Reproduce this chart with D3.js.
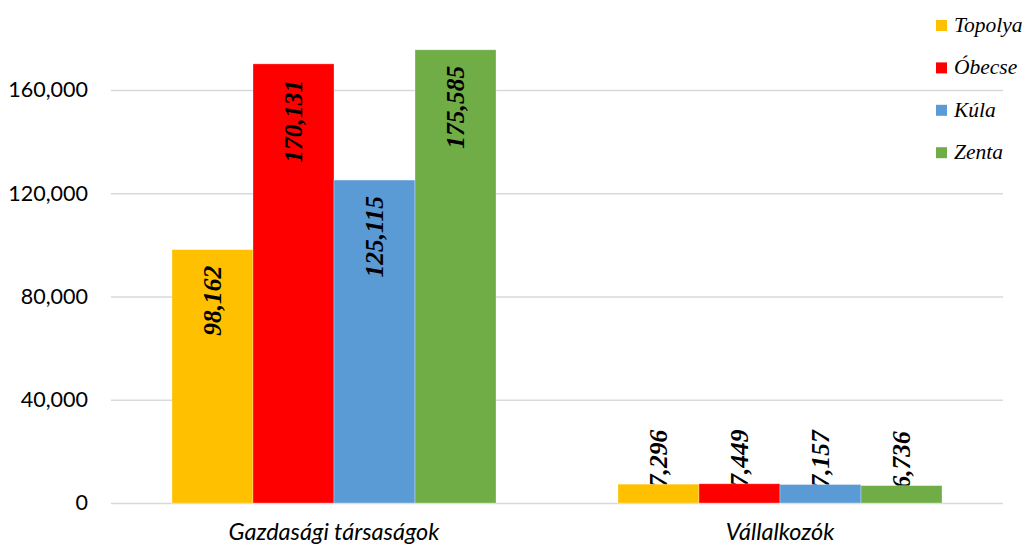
<!DOCTYPE html>
<html>
<head>
<meta charset="utf-8">
<script src="https://cdn.jsdelivr.net/npm/d3@7"></script>
<style>
  body { margin: 0; background: #fff; }
  svg { display: block; }
</style>
</head>
<body>
<svg id="chart" width="1025" height="547"></svg>
<script>
// chart data
const categories = ["Gazdasági társaságok", "Vállalkozók"];
const seriesNames = ["Topolya", "Óbecse", "Kúla", "Zenta"];
const seriesColors = ["#FFC000", "#FF0000", "#5B9BD5", "#70AD47"];
const topolya = [98162, 7296];
const obecse = [170131, 7449];
const kula = [125115, 7157];
const zenta = [175585, 6736];
const yTicks = [0, 40000, 80000, 120000, 160000];

const values = [topolya, obecse, kula, zenta];

let svg = d3.select("#chart"),
    WIDTH = 1025,
    HEIGHT = 547,
    MARGINS = { top: 38.4, right: 22, bottom: 44, left: 111 };

let x0 = d3.scaleBand()
    .domain(categories)
    .range([MARGINS.left, WIDTH - MARGINS.right])
    .paddingInner(0.2735)
    .paddingOuter(0.2735 / 2);

let x1 = d3.scaleBand()
    .domain(seriesNames)
    .range([0, x0.bandwidth()]);

let y = d3.scaleLinear()
    .domain([0, 180000])
    .range([HEIGHT - MARGINS.bottom, MARGINS.top]);

let color = d3.scaleOrdinal().domain(seriesNames).range(seriesColors);
let fmt = d3.format(",");

// gridlines + y labels
let yAxis = d3.axisLeft(y)
    .tickValues(yTicks)
    .tickFormat(fmt)
    .tickSize(-(WIDTH - MARGINS.left - MARGINS.right))
    .tickPadding(23);

let gy = svg.append("g")
    .attr("transform", "translate(" + MARGINS.left + ",0)")
    .call(yAxis);
gy.select(".domain").remove();
gy.selectAll(".tick line").attr("stroke", "#d9d9d9").attr("stroke-width", 1.5);
gy.selectAll(".tick text")
    .attr("fill", "#000")
    .style("font-family", "Lato, 'Open Sans', sans-serif")
    .style("font-size", "21.5px");

// x labels
let xAxis = d3.axisBottom(x0).tickSize(0).tickPadding(20);
let gx = svg.append("g")
    .attr("transform", "translate(0," + (HEIGHT - MARGINS.bottom) + ")")
    .call(xAxis);
gx.select(".domain").remove();
gx.selectAll(".tick text")
    .attr("fill", "#000")
    .style("font-family", "Lato, 'Open Sans', sans-serif")
    .style("font-style", "italic")
    .style("font-size", "23.5px");

// flatten into bar records
let bars = [];
categories.forEach(function(c, i) {
    seriesNames.forEach(function(s, j) {
        bars.push({ cat: c, name: s, value: values[j][i] });
    });
});

const LABEL_LEN = 90;
function fits(d) { return y(0) - y(d.value) > LABEL_LEN; }

function labelAttrs(sel) {
    sel.attr("transform", function(d) {
            let cx = x0(d.cat) + x1(d.name) + x1.bandwidth() / 2;
            let yy = fits(d) ? y(d.value) + 16 : y(d.value) + 3;
            return "translate(" + cx + "," + yy + ") rotate(-90)";
        })
        .attr("dy", "0.35em")
        .attr("text-anchor", function(d) { return fits(d) ? "end" : "start"; })
        .style("font-family", "'Liberation Serif', serif")
        .style("font-weight", "bold")
        .style("font-style", "italic")
        .style("font-size", "25.5px")
        .attr("fill", "#000")
        .text(function(d) { return fmt(d.value); });
}

// labels that do not fit sit behind the bars
svg.append("g").selectAll("text")
    .data(bars.filter(function(d) { return !fits(d); }))
    .enter().append("text")
    .call(labelAttrs);

svg.append("g").selectAll("rect")
    .data(bars)
    .enter().append("rect")
    .attr("x", function(d) { return x0(d.cat) + x1(d.name); })
    .attr("y", function(d) { return y(d.value); })
    .attr("width", x1.bandwidth())
    .attr("height", function(d) { return y(0) - y(d.value); })
    .attr("fill", function(d) { return color(d.name); })
    .attr("stroke", "#fff")
    .attr("stroke-opacity", 0.4)
    .attr("stroke-width", 0.75);

svg.append("g").selectAll("text")
    .data(bars.filter(fits))
    .enter().append("text")
    .call(labelAttrs);

// legend
let legend = svg.append("g")
    .attr("transform", "translate(936,20)");
let item = legend.selectAll("g")
    .data(seriesNames)
    .enter().append("g")
    .attr("transform", function(d, i) { return "translate(0," + (i * 42.4) + ")"; });
item.append("rect")
    .attr("width", 11)
    .attr("height", 11)
    .attr("fill", function(d) { return color(d); });
item.append("text")
    .attr("x", 18)
    .attr("y", 12)
    .style("font-family", "'Liberation Serif', serif")
    .style("font-style", "italic")
    .style("font-size", "21.5px")
    .attr("fill", "#000")
    .text(function(d) { return d; });
</script>
</body>
</html>
